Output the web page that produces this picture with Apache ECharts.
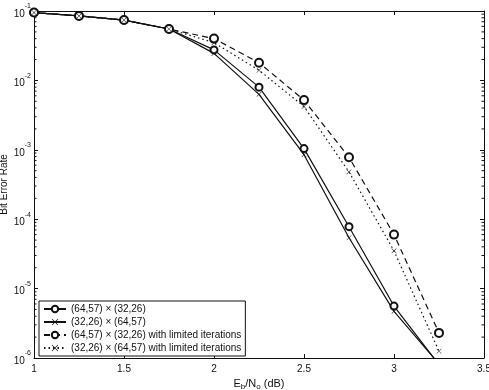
<!DOCTYPE html>
<html>
<head>
<meta charset="utf-8">
<script src="https://cdn.jsdelivr.net/npm/echarts@6/dist/echarts.min.js"></script>
<style>
  html, body { margin: 0; padding: 0; background: #fff; }
  #main { width: 489px; height: 390px; }
</style>
</head>
<body>
<div id="main"></div>
<script>
// Eb/No 取值 (dB)
var ebno = [1, 1.25, 1.5, 1.75, 2, 2.25, 2.5, 2.75, 3, 3.25];

// 误码率数据
var ber6457x3226 = [0.095, 0.085, 0.074, 0.055, 0.0275, 0.008, 0.00104, 7.8e-5, 5.6e-6, 8e-7];
var ber3226x6457 = [0.095, 0.085, 0.074, 0.055, 0.0245, 0.0063, 0.00085, 5.4e-5, 4.7e-6, 8.2e-7];
var ber6457x3226Lim = [0.095, 0.085, 0.074, 0.055, 0.040, 0.018, 0.0052, 0.00078, 6e-5, 2.3e-6];
var ber3226x6457Lim = [0.095, 0.085, 0.074, 0.055, 0.035, 0.014, 0.0042, 0.00048, 3.5e-5, 1.25e-6];

var seriesNames = [
    '(64,57) × (32,26)',
    '(32,26) × (64,57)',
    '(64,57) × (32,26) with limited iterations',
    '(32,26) × (64,57) with limited iterations'
];

// 对数轴的次刻度 (2..9 × 10^n)
var minorTicks = [];
for (var e = -6; e < -1; e++) {
    for (var m = 2; m <= 9; m++) {
        minorTicks.push(m * Math.pow(10, e));
    }
}

var fontFam = '"Liberation Sans", Arial, sans-serif';
var xMark = 'path://M0,0.7L0.7,0L5,4.3L9.3,0L10,0.7L5.7,5L10,9.3L9.3,10L5,5.7L0.7,10L0,9.3L4.3,5Z';

function pairs(ys) {
    var out = [];
    for (var i = 0; i < ebno.length; i++) out.push([ebno[i], ys[i]]);
    return out;
}

var myChart = echarts.init(document.getElementById('main'));

var lineBase = function (name, data, symbol, size, lineType) {
    var circ = symbol === 'emptyCircle';
    return {
        name: name,
        type: 'line',
        data: pairs(data),
        symbol: symbol,
        symbolSize: size,
        showAllSymbol: true,
        clip: true,
        animation: false,
        lineStyle: { color: '#111', width: 1.2, type: lineType },
        itemStyle: circ ? { color: '#111', borderColor: '#111', borderWidth: 0.9 } : { color: '#111', borderWidth: 0 },
        emphasis: { disabled: true }
    };
};

option = {
    animation: false,
    backgroundColor: '#fff',
    textStyle: { fontFamily: fontFam },
    grid: { left: 34, right: 5, top: 11, bottom: 32, containLabel: false, outerBoundsMode: 'none' },
    legend: {
        orient: 'vertical',
        left: 39,
        bottom: 34,
        itemWidth: 22,
        itemHeight: 8,
        itemGap: 3,
        padding: [3, 4, 3, 4],
        borderColor: '#111',
        borderWidth: 1,
        backgroundColor: '#fff',
        textStyle: { fontSize: 10, color: '#111', fontFamily: fontFam },
        data: seriesNames
    },
    xAxis: [{
        type: 'value',
        min: 1, max: 3.5, interval: 0.5,
        name: '{t|E}{s|b}{t|/N}{s|o}{t| (dB)}',
        nameLocation: 'middle',
        nameGap: 19,
        nameMoveOverlap: false,
        nameTextStyle: {
            rich: {
                t: { fontSize: 11, color: '#111', fontFamily: fontFam },
                s: { fontSize: 8, color: '#111', fontFamily: fontFam, verticalAlign: 'bottom', padding: [6, 0, 0, 0] }
            }
        },
        axisLine: { onZero: false, lineStyle: { color: '#111', width: 1 } },
        axisTick: { inside: true, length: 4, lineStyle: { color: '#111' } },
        axisLabel: { color: '#111', fontSize: 10, margin: 6, showMaxLabel: true },
        splitLine: { show: false }
    }, {
        type: 'value',
        position: 'top',
        min: 1, max: 3.5, interval: 0.5,
        axisLine: { onZero: false, lineStyle: { color: '#111', width: 1 } },
        axisTick: { inside: true, length: 4, lineStyle: { color: '#111' } },
        axisLabel: { show: false },
        splitLine: { show: false }
    }],
    yAxis: [{
        type: 'log',
        logBase: 10,
        min: 1e-6, max: 1e-1,
        name: 'Bit Error Rate',
        nameLocation: 'middle',
        nameGap: 25,
        nameMoveOverlap: false,
        nameTextStyle: { fontSize: 10, color: '#111' },
        axisLine: { onZero: false, lineStyle: { color: '#111', width: 1 } },
        axisTick: { inside: true, length: 4, lineStyle: { color: '#111' } },
        axisLabel: {
            color: '#111',
            fontSize: 10,
            margin: 3,
            align: 'right',
            showMinLabel: true,
            showMaxLabel: true,
            formatter: function (v) {
                var ex = Math.round(Math.log10(v));
                return '{b|10}{s|' + ex + '}';
            },
            rich: {
                b: { fontSize: 10, color: '#111', fontFamily: fontFam, lineHeight: 12, verticalAlign: 'bottom' },
                s: { fontSize: 7, color: '#111', fontFamily: fontFam, lineHeight: 16, verticalAlign: 'top' }
            }
        },
        splitLine: { show: false }
    }, {
        type: 'log',
        logBase: 10,
        position: 'right',
        min: 1e-6, max: 1e-1,
        axisLine: { onZero: false, lineStyle: { color: '#111', width: 1 } },
        axisTick: { inside: true, length: 4, lineStyle: { color: '#111' } },
        axisLabel: { show: false },
        splitLine: { show: false }
    }],
    series: [
        lineBase(seriesNames[0], ber6457x3226, 'emptyCircle', 7, 'solid'),
        lineBase(seriesNames[1], ber3226x6457, xMark, 5, 'solid'),
        lineBase(seriesNames[2], ber6457x3226Lim, 'emptyCircle', 8, [6, 4]),
        lineBase(seriesNames[3], ber3226x6457Lim, xMark, 5, [1.5, 3]),
        {
            // 左右两侧的对数次刻度
            type: 'custom',
            silent: true,
            data: minorTicks.map(function (v) { return [1, v]; }),
            renderItem: function (params, api) {
                var cs = params.coordSys;
                var p = api.coord([1, api.value(1)]);
                return {
                    type: 'group',
                    children: [{
                        type: 'line',
                        shape: { x1: cs.x, y1: p[1], x2: cs.x + 2.5, y2: p[1] },
                        style: { stroke: '#111', lineWidth: 1 }
                    }, {
                        type: 'line',
                        shape: { x1: cs.x + cs.width - 2.5, y1: p[1], x2: cs.x + cs.width, y2: p[1] },
                        style: { stroke: '#111', lineWidth: 1 }
                    }]
                };
            }
        }
    ]
};

myChart.setOption(option);
</script>
</body>
</html>
